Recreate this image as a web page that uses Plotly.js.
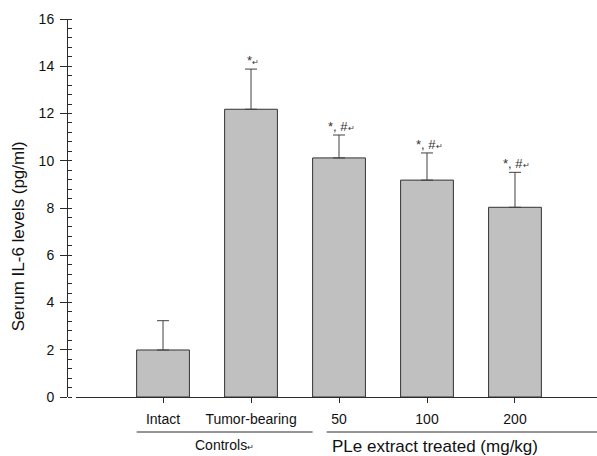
<!DOCTYPE html>
<html>
<head>
<meta charset="utf-8">
<script src="https://cdn.plot.ly/plotly-3.0.1.min.js"></script>
<style>html,body{margin:0;padding:0;background:#fff;}#chart{width:597px;height:456px;}</style>
</head>
<body>
<div id="chart"></div>
<script>
// Data
var categories = ["Intact", "Tumor-bearing", "50", "100", "200"];
var il6Mean = [1.99, 12.18, 10.12, 9.18, 8.03];
var il6Err = [1.24, 1.70, 0.97, 1.15, 1.48];
var sigLabels = ["", "*", "*, #", "*, #", "*, #"];
var groupLabels = ["Controls", "PLe extract treated (mg/kg)"];
var groupFirst = [0, 2];
var groupLast = [1, 4];
var yTicks = [0, 2, 4, 6, 8, 10, 12, 14, 16];

var xIdx = categories.map(function (c, i) { return i; });
var errTop = il6Mean.map(function (v, i) { return v + il6Err[i]; });

var font = "Arial, 'Liberation Sans', sans-serif";
var axisColor = "#2b2b2b";
var ret = "<span style='font-size:8px'>\u21b5</span>";

var trace = {
  type: "bar",
  x: xIdx,
  y: il6Mean,
  width: 0.6,
  marker: { color: "#c0c0c0", line: { color: "#333333", width: 1 } },
  error_y: {
    type: "data", symmetric: false, array: il6Err, arrayminus: il6Err.map(function () { return 0; }),
    color: "#404040", thickness: 1, width: 6
  },
  hoverinfo: "none"
};

var annotations = [];
sigLabels.forEach(function (s, i) {
  if (!s) return;
  annotations.push({
    x: xIdx[i], y: errTop[i], xref: "x", yref: "y",
    text: s + ret, showarrow: false, yanchor: "bottom", yshift: -1, xshift: 2,
    font: { family: font, size: 13, color: "#333" }
  });
});
// y-axis title
annotations.push({
  xref: "paper", yref: "paper", x: -0.092, y: (397 - 236) / 378,
  xanchor: "center", yanchor: "middle", textangle: -90,
  text: "Serum IL-6 levels (pg/ml)", showarrow: false,
  font: { family: font, size: 17, color: "#111" }
});
// group labels
annotations.push({
  xref: "x", yref: "paper", x: (groupFirst[0] + groupLast[0]) / 2 + 0.2, y: -0.128,
  xanchor: "center", yanchor: "middle", text: groupLabels[0] + ret, showarrow: false,
  font: { family: font, size: 14, color: "#111" }
});
annotations.push({
  xref: "x", yref: "paper", x: groupFirst[1] - 0.1, y: -0.132,
  xanchor: "left", yanchor: "middle", text: groupLabels[1], showarrow: false,
  font: { family: font, size: 17, color: "#111" }
});

var shapes = [
  { type: "line", xref: "x", yref: "paper", x0: groupFirst[0] - 0.3, x1: groupLast[0] + 0.7, y0: -0.0926, y1: -0.0926,
    line: { color: axisColor, width: 1 } },
  { type: "line", xref: "x", yref: "paper", x0: groupFirst[1] - 0.14, x1: 4.95, y0: -0.0926, y1: -0.0926,
    line: { color: axisColor, width: 1 } }
];

var layout = {
  width: 597, height: 456,
  margin: { l: 67, r: 0, t: 19, b: 59, pad: 0 },
  paper_bgcolor: "#fff", plot_bgcolor: "#fff",
  showlegend: false,
  bargap: 0.4,
  xaxis: {
    domain: [9 / 530, 1],
    range: [-0.989, 4.932],
    tickvals: xIdx, ticktext: categories,
    ticks: "outside", ticklen: 5, tickcolor: axisColor, tickwidth: 1,
    ticklabelstandoff: 4,
    showline: true, linecolor: axisColor, linewidth: 1,
    showgrid: false, zeroline: false,
    tickfont: { family: font, size: 14, color: "#111" },
    fixedrange: true
  },
  yaxis: {
    anchor: "free", position: 0,
    range: [0, 16],
    tickvals: yTicks,
    ticks: "outside", ticklen: 7, tickcolor: axisColor, tickwidth: 1,
    ticklabelstandoff: 3,
    minor: { dtick: 0.4, tick0: 0, ticks: "inside", ticklen: 4, tickcolor: axisColor, tickwidth: 1, showgrid: false },
    showline: true, linecolor: axisColor, linewidth: 1,
    showgrid: false, zeroline: false,
    tickfont: { family: font, size: 14, color: "#111" },
    fixedrange: true
  },
  annotations: annotations,
  shapes: shapes
};

Plotly.newPlot("chart", [trace], layout, { displayModeBar: false, staticPlot: true });
</script>
</body>
</html>
